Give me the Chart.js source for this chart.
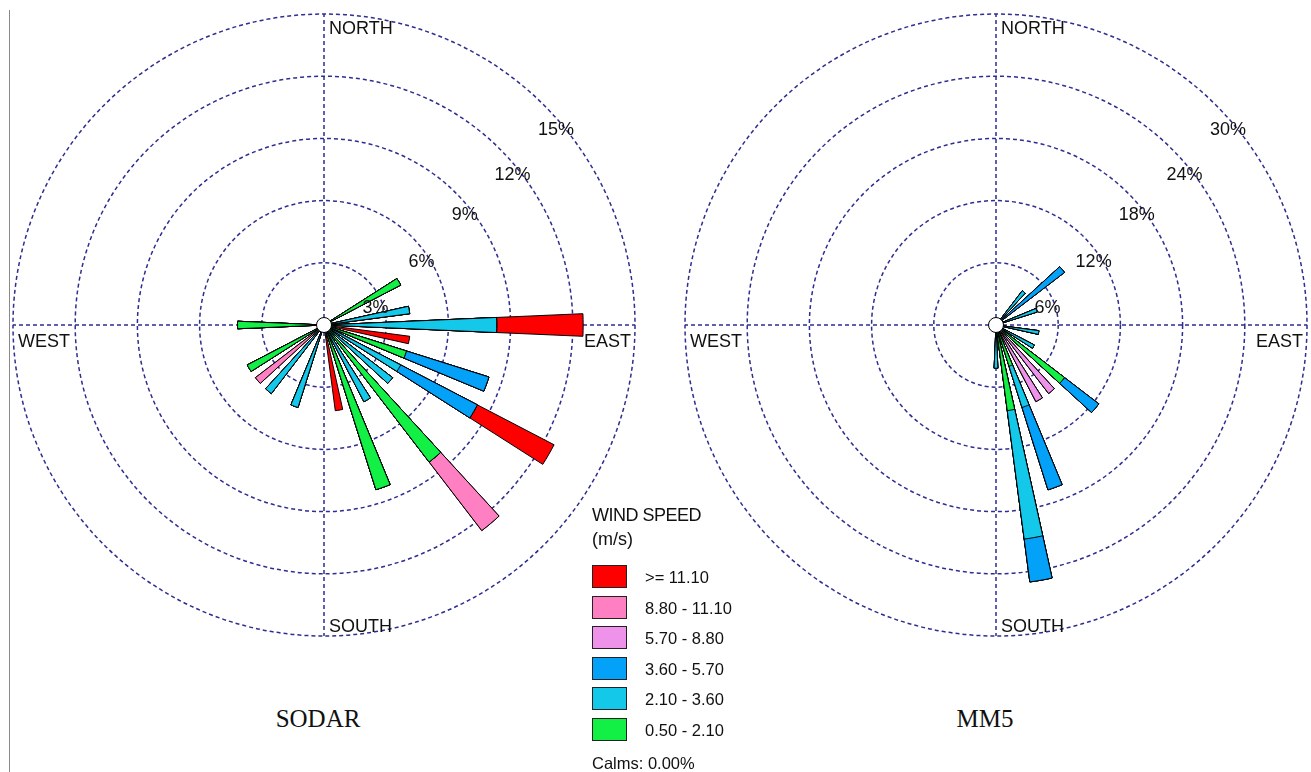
<!DOCTYPE html>
<html lang="en">
  <head>
    <meta charset="UTF-8" />
    <title>Wind roses SODAR / MM5</title>
    <script src="https://cdn.jsdelivr.net/npm/chart.js@4.4.1/dist/chart.umd.min.js"></script>
    <style>
      body { margin: 0; background: #fff; overflow: hidden; }
      #wrap { position: relative; width: 1311px; height: 772px; font-family: "Liberation Sans", Arial, sans-serif; color: #111; }
      canvas { position: absolute; }
      #sodar { left: 8px; top: 9px; }
      #mm5 { left: 680px; top: 9px; }
      .edge { position: absolute; left: 9px; top: 10px; width: 1px; height: 762px; background: #8a8a8a; }
      .name { position: absolute; top: 706px; width: 200px; text-align: center; font: 25px/25px "Liberation Serif", "Times New Roman", serif; }
      .leg { position: absolute; left: 592px; white-space: nowrap; }
      .box { position: absolute; left: 592px; width: 33px; height: 21px; border: 1px solid #222; }
    </style>
  </head>
  <body>
    <div id="wrap">
      <div class="edge"></div>
      <canvas id="sodar" width="630" height="632"></canvas>
      <canvas id="mm5" width="630" height="632"></canvas>
      <div class="name" style="left: 218px">SODAR</div>
      <div class="name" style="left: 885px">MM5</div>
      <div id="legend"></div>
    </div>

    <script>
      // 36 directions, 10 degrees apart, clockwise from north
      const directions = [0, 10, 20, 30, 40, 50, 60, 70, 80, 90, 100, 110, 120, 130, 140, 150, 160, 170,
                          180, 190, 200, 210, 220, 230, 240, 250, 260, 270, 280, 290, 300, 310, 320, 330, 340, 350];

      const speedLabels = ["0.50 - 2.10", "2.10 - 3.60", "3.60 - 5.70", "5.70 - 8.80", "8.80 - 11.10", ">= 11.10"];
      const binColors = ["#12f046", "#14c8ea", "#03a1f7", "#ee92ea", "#ff80c2", "#ff0000"];

      // percent of time per direction and speed class
      const sodarGreen  = [0, 0, 0, 0, 0, 0, 4.17, 0, 0, 0, 0, 4.17, 0, 0, 8.33, 0, 8.33, 0, 0, 0, 0, 0, 0, 0, 4.17, 0, 0, 4.17, 0, 0, 0, 0, 0, 0, 0, 0];
      const sodarCyan   = [0, 0, 0, 0, 0, 0, 0, 0, 4.17, 8.33, 0, 0, 4.17, 4.17, 0, 4.17, 0, 0, 0, 0, 4.17, 0, 4.17, 0, 0, 0, 0, 0, 0, 0, 0, 0, 0, 0, 0, 0];
      const sodarBlue   = [0, 0, 0, 0, 0, 0, 0, 0, 0, 0, 0, 4.17, 4.17, 0, 0, 0, 0, 0, 0, 0, 0, 0, 0, 0, 0, 0, 0, 0, 0, 0, 0, 0, 0, 0, 0, 0];
      const sodarViolet = [0, 0, 0, 0, 0, 0, 0, 0, 0, 0, 0, 0, 0, 0, 0, 0, 0, 0, 0, 0, 0, 0, 0, 0, 0, 0, 0, 0, 0, 0, 0, 0, 0, 0, 0, 0];
      const sodarPink   = [0, 0, 0, 0, 0, 0, 0, 0, 0, 0, 0, 0, 0, 0, 4.17, 0, 0, 0, 0, 0, 0, 0, 0, 4.17, 0, 0, 0, 0, 0, 0, 0, 0, 0, 0, 0, 0];
      const sodarRed    = [0, 0, 0, 0, 0, 0, 0, 0, 0, 4.17, 4.17, 0, 4.17, 0, 0, 0, 0, 4.17, 0, 0, 0, 0, 0, 0, 0, 0, 0, 0, 0, 0, 0, 0, 0, 0, 0, 0];

      const mm5Green  = [0, 0, 0, 0, 0, 0, 0, 0, 0, 0, 0, 0, 0, 8.33, 0, 0, 4.17, 8.33, 0, 0, 0, 0, 0, 0, 0, 0, 0, 0, 0, 0, 0, 0, 0, 0, 0, 0];
      const mm5Cyan   = [0, 0, 0, 0, 4.17, 0, 0, 4.17, 0, 0, 4.17, 0, 4.17, 0, 0, 0, 4.17, 12.5, 4.17, 0, 0, 0, 0, 0, 0, 0, 0, 0, 0, 0, 0, 0, 0, 0, 0, 0];
      const mm5Blue   = [0, 0, 0, 0, 0, 8.33, 0, 0, 0, 0, 0, 0, 0, 4.17, 0, 0, 8.33, 4.17, 0, 0, 0, 0, 0, 0, 0, 0, 0, 0, 0, 0, 0, 0, 0, 0, 0, 0];
      const mm5Violet = [0, 0, 0, 0, 0, 0, 0, 0, 0, 0, 0, 0, 0, 0, 8.33, 8.33, 0, 0, 0, 0, 0, 0, 0, 0, 0, 0, 0, 0, 0, 0, 0, 0, 0, 0, 0, 0];
      const mm5Pink   = [0, 0, 0, 0, 0, 0, 0, 0, 0, 0, 0, 0, 0, 0, 0, 0, 0, 0, 0, 0, 0, 0, 0, 0, 0, 0, 0, 0, 0, 0, 0, 0, 0, 0, 0, 0];
      const mm5Red    = [0, 0, 0, 0, 0, 0, 0, 0, 0, 0, 0, 0, 0, 0, 0, 0, 0, 0, 0, 0, 0, 0, 0, 0, 0, 0, 0, 0, 0, 0, 0, 0, 0, 0, 0, 0];

      const sodarRings = [3, 6, 9, 12, 15];
      const mm5Rings = [6, 12, 18, 24, 30];
      const calms = "0.00%";

      // where the ring labels sit (degrees clockwise from north)
      const ringLabelAngles = [72, 57, 52, 51.5, 50];
      const gridColor = "#2e2e90";

      // north petal is split in two halves (first and last slot), odd slots are gaps
      function toSlots(values) {
        const out = [values[0]];
        for (let k = 1; k < directions.length; k++) out.push(0, values[k]);
        out.push(0, values[0]);
        return out;
      }

      function cumulative(bins) {
        let run = directions.map(() => 0);
        return bins.map((b) => (run = run.map((v, i) => v + b[i])));
      }

      const roseText = {
        id: "roseText",
        afterDatasetsDraw(chart, args, opts) {
          const s = chart.scales.r;
          const ctx = chart.ctx;
          const cx = s.xCenter, cy = s.yCenter, R = s.drawingArea;
          ctx.save();
          ctx.beginPath();
          ctx.arc(cx, cy, 7.5, 0, Math.PI * 2);
          ctx.fillStyle = "#fff";
          ctx.fill();
          ctx.lineWidth = 1;
          ctx.strokeStyle = "#000";
          ctx.stroke();

          ctx.font = '18px "Liberation Sans", Arial, sans-serif';
          ctx.fillStyle = "#111";
          ctx.textBaseline = "alphabetic";
          ctx.textAlign = "left";
          ctx.fillText("NORTH", cx + 5, cy - R + 20);
          ctx.fillText("SOUTH", cx + 5, cy + R - 4);
          ctx.fillText("WEST", cx - R + 5, cy + 22);
          ctx.textAlign = "right";
          ctx.fillText("EAST", cx + R - 4, cy + 22);

          ctx.textAlign = "center";
          ctx.textBaseline = "middle";
          opts.rings.forEach((v, i) => {
            const a = (ringLabelAngles[i] * Math.PI) / 180;
            const d = s.getDistanceFromCenterForValue(v) - 8;
            ctx.fillText(v + "%", cx + d * Math.sin(a), cy - d * Math.cos(a));
          });
          ctx.restore();
        },
      };

      function drawRose(id, bins, rings) {
        const sums = cumulative(bins);
        const datasets = sums.map((s, i) => ({
          data: toSlots(s),
          backgroundColor: binColors[i],
          borderColor: "#000",
          borderWidth: 1,
          angle: (c) => (c.dataIndex === 0 || c.dataIndex === directions.length * 2 ? 2.5 : 5),
        }));

        new Chart(document.getElementById(id), {
          type: "polarArea",
          data: { labels: ["NORTH", "EAST", "SOUTH", "WEST"], datasets },
          options: {
            responsive: false,
            animation: false,
            events: [],
            layout: { padding: { left: 5, right: 3, top: 5, bottom: 5 } },
            plugins: { legend: { display: false }, tooltip: { enabled: false }, roseText: { rings } },
            scales: {
              r: {
                min: 0,
                max: rings[rings.length - 1],
                startAngle: 0,
                ticks: { stepSize: rings[0], display: false },
                pointLabels: { display: false },
                grid: { circular: true, color: gridColor, lineWidth: 1.5, borderDash: [4, 3] },
                border: { dash: [4, 3] },
                angleLines: { display: true, color: gridColor, lineWidth: 1.5, borderDash: [4, 3] },
              },
            },
          },
          plugins: [roseText],
        });
      }

      drawRose("sodar", [sodarGreen, sodarCyan, sodarBlue, sodarViolet, sodarPink, sodarRed], sodarRings);
      drawRose("mm5", [mm5Green, mm5Cyan, mm5Blue, mm5Violet, mm5Pink, mm5Red], mm5Rings);

      // legend between the two roses
      const legend = document.getElementById("legend");
      let html = '<div class="leg" style="top:506px;font-size:18px;line-height:18px;letter-spacing:-0.5px">WIND SPEED</div>';
      html += '<div class="leg" style="top:530px;font-size:18px;line-height:18px">(m/s)</div>';
      for (let i = speedLabels.length - 1; i >= 0; i--) {
        const top = 565 + (speedLabels.length - 1 - i) * 30.6;
        html += `<div class="box" style="top:${top}px;background:${binColors[i]}"></div>`;
        html += `<div class="leg" style="left:645px;top:${top + 1}px;font-size:16.5px;line-height:23px">${speedLabels[i]}</div>`;
      }
      html += `<div class="leg" style="top:755px;font-size:16.5px;line-height:16.5px">Calms: ${calms}</div>`;
      legend.innerHTML = html;
    </script>
  </body>
</html>
